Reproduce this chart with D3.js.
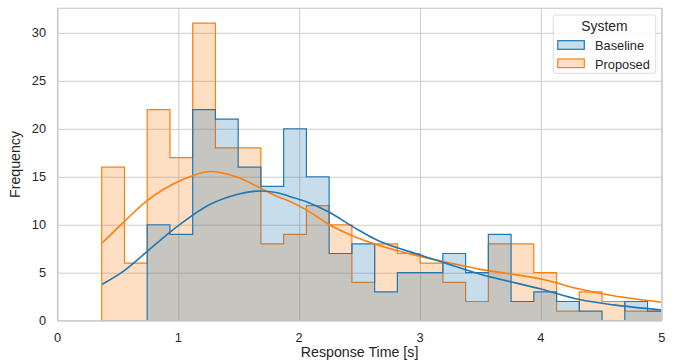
<!DOCTYPE html>
<html>
<head>
<meta charset="utf-8">
<script src="https://cdn.jsdelivr.net/npm/d3@7"></script>
<style>
  body { margin: 0; background: #fff; }
  text { font-family: "Liberation Sans", Arial, sans-serif; fill: #262626; }
</style>
</head>
<body>
<div id="chart"></div>
<script>
var svgWidth = 683;
var svgHeight = 362;

var margin = { top: 8.3, right: 21.3, bottom: 41.3, left: 57.5 };
var width = svgWidth - margin.left - margin.right;
var height = svgHeight - margin.top - margin.bottom;

// histogram bins (shared edges)
var binStart = 0.366;
var binWidth = 0.1882;
var baselineCounts = [0, 0, 10, 9, 22, 21, 16, 14, 20, 15, 7, 8, 3, 5, 5, 7, 5, 9, 2, 3, 2, 1, 0, 2, 1];
var proposedCounts = [16, 6, 22, 17, 31, 18, 18, 8, 9, 12, 10, 4, 8, 7, 6, 4, 2, 8, 8, 5, 1, 3, 2, 1, 1];

// kde curves (already scaled to counts)
var kdeX = [0.37, 0.55, 0.75, 1.0, 1.26, 1.5, 1.65, 1.81, 1.92, 2.06, 2.25, 2.45, 2.67, 3.0, 3.2, 3.5, 4.0, 4.32, 4.6, 5.0];
var baselineKde = [3.8, 5.2, 7.3, 9.9, 12.1, 13.2, 13.5, 13.35, 12.95, 12.4, 11.3, 9.75, 8.25, 6.85, 6.05, 4.85, 3.3, 2.2, 1.65, 1.12];
var proposedKde = [8.1, 10.3, 12.6, 14.5, 15.55, 14.9, 14.0, 13.0, 12.45, 11.55, 10.0, 8.8, 7.8, 6.7, 6.15, 5.35, 4.35, 3.3, 2.6, 1.92];

var xTicks = [0, 1, 2, 3, 4, 5];
var yTicks = [0, 5, 10, 15, 20, 25, 30];

var blue = "#1f77b4";
var orange = "#ff7f0e";

var svg = d3.select("#chart")
    .append("svg")
    .attr("width", svgWidth)
    .attr("height", svgHeight);

var chartGroup = svg.append("g")
    .attr("transform", `translate(${margin.left}, ${margin.top})`);

var xScale = d3.scaleLinear().domain([0, 5]).range([0, width]);
var yScale = d3.scaleLinear().domain([0, 32.55]).range([height, 0]);

svg.append("defs").append("clipPath")
    .attr("id", "plotClip")
    .append("rect")
    .attr("width", width)
    .attr("height", height);

// grid
chartGroup.append("g")
    .call(d3.axisBottom(xScale).tickValues(xTicks).tickSize(height).tickFormat(""))
    .call(g => g.select(".domain").remove())
    .selectAll("line").attr("stroke", "#cccccc").attr("stroke-width", 1);

chartGroup.append("g")
    .call(d3.axisLeft(yScale).tickValues(yTicks).tickSize(-width).tickFormat(""))
    .call(g => g.select(".domain").remove())
    .selectAll("line").attr("stroke", "#cccccc").attr("stroke-width", 1);

// step outline of a histogram
function stepPoints(counts) {
    var pts = [[binStart, 0]];
    counts.forEach(function(c, i) {
        var x0 = binStart + i * binWidth;
        pts.push([x0, c]);
        pts.push([x0 + binWidth, c]);
    });
    pts.push([binStart + counts.length * binWidth, 0]);
    return pts;
}

var stepLine = d3.line()
    .x(d => xScale(d[0]))
    .y(d => yScale(d[1]));

var plotArea = chartGroup.append("g").attr("clip-path", "url(#plotClip)");

// proposed drawn first, baseline on top
[[proposedCounts, orange], [baselineCounts, blue]].forEach(function(s) {
    plotArea.append("path")
        .attr("d", stepLine(stepPoints(s[0])) + "Z")
        .attr("fill", s[1])
        .attr("fill-opacity", 0.25)
        .attr("stroke", s[1])
        .attr("stroke-width", 1.2)
        .attr("stroke-linejoin", "miter");
});

var kdeLine = d3.line()
    .x((d, i) => xScale(kdeX[i]))
    .y(d => yScale(d))
    .curve(d3.curveCatmullRom.alpha(0.5));

[[proposedKde, orange], [baselineKde, blue]].forEach(function(s) {
    plotArea.append("path")
        .attr("d", kdeLine(s[0]))
        .attr("fill", "none")
        .attr("stroke", s[1])
        .attr("stroke-width", 1.6);
});

// spines
chartGroup.append("rect")
    .attr("width", width)
    .attr("height", height)
    .attr("fill", "none")
    .attr("stroke", "#cccccc")
    .attr("stroke-width", 1.2);

// tick labels
chartGroup.selectAll(".xtick")
    .data(xTicks)
    .enter()
    .append("text")
    .attr("x", d => xScale(d))
    .attr("y", height + 21)
    .style("font-size", "12.8px")
    .style("text-anchor", "middle")
    .text(d => d);

chartGroup.selectAll(".ytick")
    .data(yTicks)
    .enter()
    .append("text")
    .attr("x", -11.5)
    .attr("y", d => yScale(d) + 4.6)
    .style("font-size", "12.8px")
    .style("text-anchor", "end")
    .text(d => d);

// axis labels
chartGroup.append("text")
    .attr("x", width / 2)
    .attr("y", height + 36.8)
    .style("font-size", "14.2px")
    .style("text-anchor", "middle")
    .text("Response Time [s]");

chartGroup.append("text")
    .attr("transform", `translate(${-37.5}, ${height / 2}) rotate(-90)`)
    .style("font-size", "14.2px")
    .style("text-anchor", "middle")
    .text("Frequency");

// legend
var legend = svg.append("g");
legend.append("rect")
    .attr("x", 553.3)
    .attr("y", 15)
    .attr("width", 102.4)
    .attr("height", 58.3)
    .attr("rx", 2.5)
    .attr("fill", "#ffffff")
    .attr("fill-opacity", 0.8)
    .attr("stroke", "#dddddd")
    .attr("stroke-width", 1);

legend.append("text")
    .attr("x", 604.5)
    .attr("y", 31)
    .style("font-size", "13.9px")
    .style("text-anchor", "middle")
    .text("System");

var legendItems = [["Baseline", blue, 40.7], ["Proposed", orange, 59]];
legendItems.forEach(function(item) {
    legend.append("rect")
        .attr("x", 557.8)
        .attr("y", item[2])
        .attr("width", 26.5)
        .attr("height", 8.6)
        .attr("fill", item[1])
        .attr("fill-opacity", 0.25)
        .attr("stroke", item[1])
        .attr("stroke-width", 1.2);
    legend.append("text")
        .attr("x", 595)
        .attr("y", item[2] + 9.7)
        .style("font-size", "12.8px")
        .text(item[0]);
});
</script>
</body>
</html>
